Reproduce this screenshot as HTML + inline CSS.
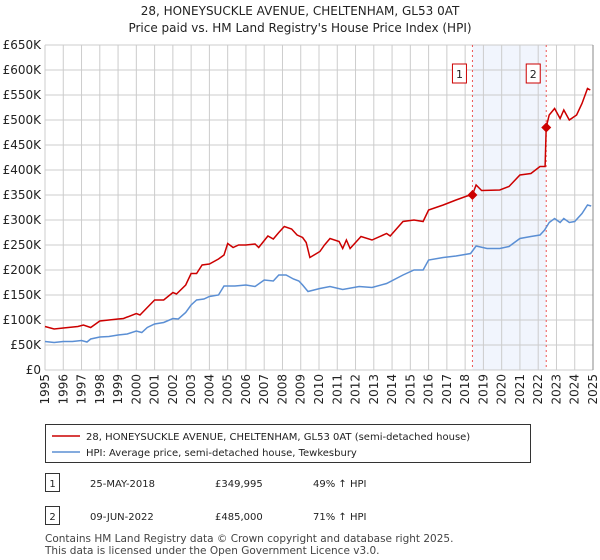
<!DOCTYPE html>
<html><head><meta charset="utf-8"><style>
body{margin:0;background:#fff;font-family:"DejaVu Sans","Liberation Sans",sans-serif;}
#wrap{position:relative;width:600px;height:560px;overflow:hidden;}
svg text{font-family:"DejaVu Sans","Liberation Sans",sans-serif;}
</style></head><body>
<div id="wrap">
<svg id="chart" width="600" height="560"></svg>
</div>
<script>
const hpiYears=[1995,1995.5,1996,1996.5,1997,1997.3,1997.5,1998,1998.5,1999,1999.5,2000,2000.3,2000.6,2001,2001.5,2002,2002.3,2002.7,2003,2003.3,2003.7,2004,2004.5,2004.8,2005,2005.4,2006,2006.5,2007,2007.5,2007.8,2008.2,2008.6,2008.9,2009.1,2009.4,2010.05,2010.6,2011.3,2012.2,2012.9,2013.7,2014.6,2015.2,2015.7,2016,2016.8,2017.5,2018.3,2018.6,2019.2,2019.9,2020.4,2021,2021.6,2022.1,2022.35,2022.6,2022.9,2023.2,2023.4,2023.7,2024,2024.4,2024.7,2024.9];
const hpiValues=[57,55,57,57,59,56,62,66,67,70,72,78,75,85,92,95,103,102,115,130,140,142,147,150,168,168,168,170,167,180,178,190,190,182,178,170,157,163,167,161,167,165,173,190,200,200,220,225,228,233,248,243,243,247,263,267,270,280,295,303,295,303,295,297,313,330,328];
const ppYears=[1995,1995.5,1996,1996.8,1997.1,1997.5,1998,1998.5,1999,1999.3,2000,2000.2,2001,2001.5,2002,2002.2,2002.7,2003,2003.3,2003.6,2004,2004.5,2004.8,2005,2005.3,2005.6,2006,2006.5,2006.7,2007.2,2007.5,2007.8,2008.1,2008.5,2008.8,2009.1,2009.3,2009.5,2010.05,2010.3,2010.6,2011.1,2011.3,2011.5,2011.7,2012.3,2012.9,2013.7,2013.9,2014.6,2015.2,2015.7,2016,2016.8,2017.5,2018.1,2018.4,2018.6,2018.9,2019.9,2020.4,2021,2021.6,2022.1,2022.38,2022.44,2022.6,2022.9,2023.2,2023.4,2023.7,2024.1,2024.4,2024.7,2024.85];
const ppValues=[87,82,84,87,90,85,98,100,102,103,113,110,140,140,155,152,170,193,193,210,212,222,230,253,245,250,250,252,245,268,262,275,287,282,270,265,255,225,237,250,263,257,243,260,243,267,260,273,268,297,300,297,320,330,340,348,350,370,359,360,367,390,393,407,407,485,510,523,503,520,500,510,533,563,560];
const sales=[{n:"1",x:2018.4,v:349.995},{n:"2",x:2022.44,v:485}];
const yTicks=[0,50,100,150,200,250,300,350,400,450,500,550,600,650];
const xTicks=[1995,1996,1997,1998,1999,2000,2001,2002,2003,2004,2005,2006,2007,2008,2009,2010,2011,2012,2013,2014,2015,2016,2017,2018,2019,2020,2021,2022,2023,2024,2025];
const L=45,R=593,T=45,B=370;
const xs=y=>L+(y-1995)*(R-L)/30;
const ys=v=>B-v*(B-T)/650;
const NS="http://www.w3.org/2000/svg";
const svg=document.getElementById('chart');
function mk(tag,attrs,parent){const e=document.createElementNS(NS,tag);for(const k in attrs)e.setAttribute(k,attrs[k]);(parent||svg).appendChild(e);return e;}
function txt(s,attrs,parent){const e=mk('text',attrs,parent);e.textContent=s;return e;}
let t;
t=txt("28, HONEYSUCKLE AVENUE, CHELTENHAM, GL53 0AT",{x:300,y:15,'text-anchor':'middle','font-size':12,fill:'#222'});


t=txt("Price paid vs. HM Land Registry's House Price Index (HPI)",{x:300,y:32,'text-anchor':'middle','font-size':12,fill:'#222'});


let sh=mk('rect',{x:xs(sales[0].x),y:T,width:xs(sales[1].x)-xs(sales[0].x),height:B-T,fill:'#edf3fc',opacity:0.8});


yTicks.forEach(v=>{
 let g=mk('line',{x1:L,x2:R,y1:ys(v),y2:ys(v),stroke:'#cccccc','stroke-width':1});
 
 
 let l=txt(v===0?"£0":"£"+v+"K",{x:L-4,y:ys(v)+4,'text-anchor':'end','font-size':12,fill:'#222'});
 
 
});
xTicks.forEach(y=>{
 let g=mk('line',{x1:xs(y),x2:xs(y),y1:T,y2:B,stroke:'#cccccc','stroke-width':1});
 
 
 let l=txt(String(y),{x:0,y:0,'text-anchor':'end','font-size':12,fill:'#222',transform:`translate(${xs(y)+4},${B+4}) rotate(-90)`});
 
 
});
let ax=mk('line',{x1:R,x2:R,y1:T,y2:B,stroke:'#888','stroke-width':1});


sales.forEach(s=>{
 let v=mk('line',{x1:xs(s.x),x2:xs(s.x),y1:T,y2:B,stroke:'#e55','stroke-width':1,'stroke-dasharray':'2,3'});
 
 
 let b=mk('rect',{x:xs(s.x)-20,y:64,width:14,height:19,fill:'#fff',stroke:'#c00','stroke-width':1});
 
 
 let l=txt(s.n,{x:xs(s.x)-13,y:78,'text-anchor':'middle','font-size':11,fill:'#222'});
 
 
});
function path(xa,va){return xa.map((x,i)=>(i?'L':'M')+xs(x).toFixed(1)+','+ys(va[i]).toFixed(1)).join(' ');}
let hp=mk('path',{d:path(hpiYears,hpiValues),fill:'none',stroke:'#5b8fd4','stroke-width':1.5});


let pp=mk('path',{d:path(ppYears,ppValues),fill:'none',stroke:'#cc0000','stroke-width':1.5});


sales.forEach(s=>{
 const cx=xs(s.x),cy=ys(s.v);
 let d=mk('path',{d:`M${cx},${cy-5}L${cx+5},${cy}L${cx},${cy+5}L${cx-5},${cy}Z`,fill:'#cc0000'});
 
 
});
let lg=mk('rect',{x:45.5,y:424.5,width:485,height:38,fill:'#fff',stroke:'#333','stroke-width':1});


let l1=mk('line',{x1:52,x2:80,y1:436,y2:436,stroke:'#cc0000','stroke-width':1.5});


t=txt("28, HONEYSUCKLE AVENUE, CHELTENHAM, GL53 0AT (semi-detached house)",{x:86,y:440,'font-size':10,fill:'#222'});


let l2=mk('line',{x1:52,x2:80,y1:452,y2:452,stroke:'#5b8fd4','stroke-width':1.5});


t=txt("HPI: Average price, semi-detached house, Tewkesbury",{x:86,y:456,'font-size':10,fill:'#222'});


const rows=[["1","25-MAY-2018","£349,995","49% ↑ HPI",487],["2","09-JUN-2022","£485,000","71% ↑ HPI",520]];
rows.forEach(r=>{
 let b=mk('rect',{x:45.5,y:r[4]-13.5,width:14,height:18,fill:'#fff',stroke:'#333','stroke-width':1});
 
 
 let a=txt(r[0],{x:52.5,y:r[4],'text-anchor':'middle','font-size':10,fill:'#222'});
 
 
 a=txt(r[1],{x:90,y:r[4],'font-size':10,fill:'#222'});
 
 
 a=txt(r[2],{x:215,y:r[4],'font-size':10,fill:'#222'});
 
 
 a=txt(r[3],{x:313,y:r[4],'font-size':10,fill:'#222'});
 
 
});
t=txt("Contains HM Land Registry data © Crown copyright and database right 2025.",{x:45,y:542,'font-size':10.5,fill:'#444'});


t=txt("This data is licensed under the Open Government Licence v3.0.",{x:45,y:554,'font-size':10.5,fill:'#444'});


</script>
</body></html>
